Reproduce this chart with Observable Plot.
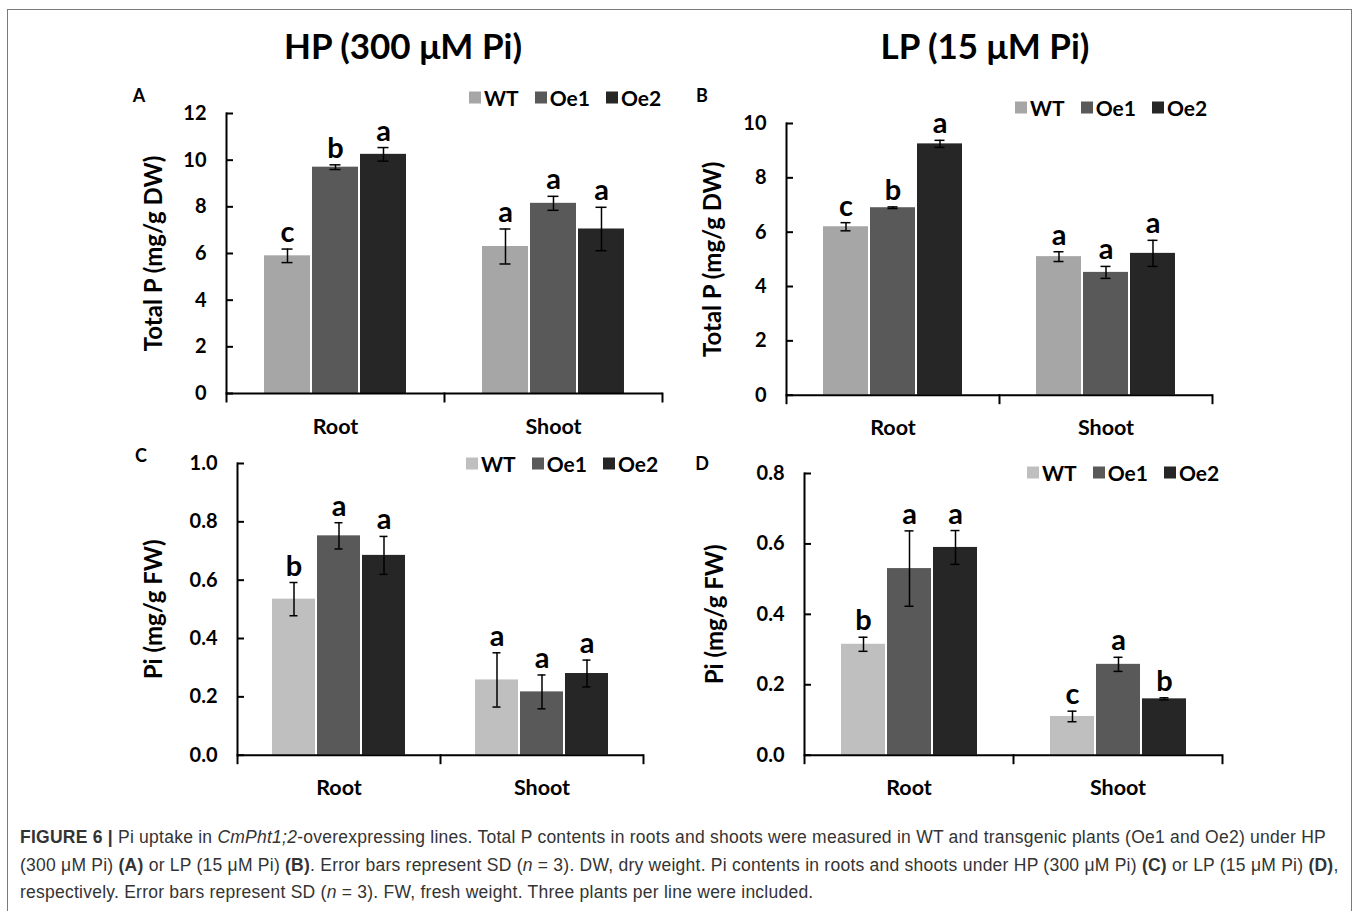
<!DOCTYPE html>
<html>
<head>
<meta charset="utf-8">
<script src="https://cdn.jsdelivr.net/npm/d3@7"></script>
<script src="https://cdn.jsdelivr.net/npm/@observablehq/plot@0.6"></script>
<style>
  body { margin: 0; background: #fff; }
  #fig { position: relative; width: 1358px; height: 911px; overflow: hidden; background: #fff; font-family: Lato, "Open Sans", sans-serif; color: #000; }
  .box { position: absolute; left: 7px; top: 9px; width: 1345px; height: 920px; border: 1px solid #7a7a7a; box-sizing: border-box; }
  .title { position: absolute; font-weight: 700; font-size: 35px; transform: translate(-50%, -50%); white-space: nowrap; }
  .plabel { position: absolute; font-weight: 700; font-size: 18px; transform: translate(-50%, -50%); }
  .legend { position: absolute; display: flex; align-items: center; font-weight: 700; font-size: 21px; transform: translateY(-50%); white-space: nowrap; }
  .legend .it { display: flex; align-items: center; margin-right: 16px; }
  .legend .sw { width: 12px; height: 12px; margin-right: 3px; }
  .panel { position: absolute; }
  .cap { position: absolute; left: 20px; top: 824px; font-family: "Liberation Sans", Arial, sans-serif; font-size: 17.5px; letter-spacing: 0.24px; line-height: 27.5px; color: #333; white-space: nowrap; }
</style>
</head>
<body>
<div id="fig">
  <div class="box"></div>
</div>
<script>
// ---------- data ----------
const categories = ["Root", "Shoot"];
const lines = ["WT", "Oe1", "Oe2"];

// Panel A: Total P, HP (300 µM Pi)
const A_root = [5.9, 9.7, 10.25];
const A_shoot = [6.3, 8.15, 7.05];
const A_root_sd = [0.29, 0.1, 0.29];
const A_shoot_sd = [0.75, 0.3, 0.93];
const A_root_sig = ["c", "b", "a"];
const A_shoot_sig = ["a", "a", "a"];
const A_ticks = [0, 2, 4, 6, 8, 10, 12];

// Panel B: Total P, LP (15 µM Pi)
const B_root = [6.2, 6.9, 9.25];
const B_shoot = [5.1, 4.52, 5.22];
const B_root_sd = [0.15, 0.03, 0.13];
const B_shoot_sd = [0.18, 0.22, 0.48];
const B_root_sig = ["c", "b", "a"];
const B_shoot_sig = ["a", "a", "a"];
const B_ticks = [0, 2, 4, 6, 8, 10];

// Panel C: Pi, HP (300 µM Pi)
const C_root = [0.535, 0.752, 0.685];
const C_shoot = [0.258, 0.217, 0.28];
const C_root_sd = [0.057, 0.045, 0.065];
const C_shoot_sd = [0.093, 0.058, 0.046];
const C_root_sig = ["b", "a", "a"];
const C_shoot_sig = ["a", "a", "a"];
const C_ticks = [0, 0.2, 0.4, 0.6, 0.8, 1.0];

// Panel D: Pi, LP (15 µM Pi)
const D_root = [0.315, 0.53, 0.59];
const D_shoot = [0.11, 0.258, 0.16];
const D_root_sd = [0.02, 0.107, 0.048];
const D_shoot_sd = [0.015, 0.02, 0.003];
const D_root_sig = ["b", "a", "a"];
const D_shoot_sig = ["c", "a", "b"];
const D_ticks = [0, 0.2, 0.4, 0.6, 0.8];

const titles = ["HP (300 μM Pi)", "LP (15 μM Pi)"];
const yLabelTotal = "Total P (mg/g DW)";
const yLabelPi = "Pi (mg/g FW)";
const colorsAB = ["#a6a6a6", "#595959", "#262626"];
const colorsCD = ["#bfbfbf", "#595959", "#262626"];

function rowsOf(root, shoot, rootSd, shootSd, rootSig, shootSig) {
  const out = [];
  [[root, rootSd, rootSig], [shoot, shootSd, shootSig]].forEach(([v, sd, sig], ci) => {
    lines.forEach((l, si) => out.push({cat: categories[ci], line: l, v: v[si], sd: sd[si], sig: sig[si]}));
  });
  return out;
}

// ---------- layout ----------
const fig = document.getElementById("fig");
function addDiv(cls, html, x, y) {
  const d = document.createElement("div");
  d.className = cls;
  d.innerHTML = html;
  d.style.left = x + "px";
  d.style.top = y + "px";
  fig.appendChild(d);
  return d;
}

addDiv("title", titles[0], 403, 45);
addDiv("title", titles[1], 985, 45);

const panels = [
  {id: "A", rows: rowsOf(A_root, A_shoot, A_root_sd, A_shoot_sd, A_root_sig, A_shoot_sig), ticks: A_ticks, fmt: d3.format("d"),
   label: yLabelTotal, colors: colorsAB, axisLeft: 224.6, axisRight: 662, yTop: 113.3, y0: 393.3, labelD: 72,
   letter: [139, 95], legend: [469, 97]},
  {id: "B", rows: rowsOf(B_root, B_shoot, B_root_sd, B_shoot_sd, B_root_sig, B_shoot_sig), ticks: B_ticks, fmt: d3.format("d"),
   label: yLabelTotal, colors: colorsAB, axisLeft: 786.4, axisRight: 1213, yTop: 123.3, y0: 395, labelD: 73,
   letter: [702, 95], legend: [1015, 107]},
  {id: "C", rows: rowsOf(C_root, C_shoot, C_root_sd, C_shoot_sd, C_root_sig, C_shoot_sig), ticks: C_ticks, fmt: d3.format(".1f"),
   label: yLabelPi, colors: colorsCD, axisLeft: 236.4, axisRight: 644, yTop: 463.3, y0: 755, labelD: 83,
   letter: [141, 455], legend: [466, 463]},
  {id: "D", rows: rowsOf(D_root, D_shoot, D_root_sd, D_shoot_sd, D_root_sig, D_shoot_sig), ticks: D_ticks, fmt: d3.format(".1f"),
   label: yLabelPi, colors: colorsCD, axisLeft: 802.5, axisRight: 1222, yTop: 473.3, y0: 755, labelD: 89,
   letter: [702, 463], legend: [1027, 472]}
];

panels.forEach(p => {
  const mL = 100, mR = 10, mT = 20, mB = 50;
  const plotH = p.y0 - p.yTop;
  const W = p.axisRight - p.axisLeft + mL + mR;
  const H = plotH + mT + mB;
  const yMax = p.ticks[p.ticks.length - 1];
  const chart = Plot.plot({
    width: W, height: H,
    marginLeft: mL, marginRight: mR, marginTop: mT, marginBottom: mB,
    style: {fontFamily: "Lato, 'Open Sans', sans-serif", color: "#000", background: "transparent", overflow: "visible"},
    fx: {domain: categories, padding: 0, label: null},
    x: {domain: lines, paddingInner: 0.05, paddingOuter: 0.757, axis: null},
    y: {domain: [0, yMax]},
    color: {domain: lines, range: p.colors},
    marks: [
      Plot.barY(p.rows, {fx: "cat", x: "line", y: "v", fill: "line"}),
      Plot.ruleX(p.rows, {fx: "cat", x: "line", y1: d => d.v - d.sd, y2: d => d.v + d.sd, stroke: "#000", strokeWidth: 1.5}),
      Plot.tickY(p.rows, {fx: "cat", x: "line", y: d => d.v + d.sd, stroke: "#000", strokeWidth: 1.5, inset: 17.5}),
      Plot.tickY(p.rows, {fx: "cat", x: "line", y: d => d.v - d.sd, stroke: "#000", strokeWidth: 1.5, inset: 17.5}),
      Plot.text(p.rows, {fx: "cat", x: "line", y: d => d.v + d.sd, text: "sig", lineAnchor: "bottom", dy: -7, fontSize: 29, fontWeight: "bold"}),
      Plot.ruleY([0], {stroke: "#000", strokeWidth: 2}),
      Plot.frame({anchor: "left", facetAnchor: "left", stroke: "#000", strokeWidth: 2}),
      Plot.frame({anchor: "left", insetTop: plotH, insetBottom: -8, stroke: "#000", strokeWidth: 2}),
      Plot.frame({anchor: "right", facetAnchor: "right", insetTop: plotH, insetBottom: -8, stroke: "#000", strokeWidth: 2}),
      // inward tick marks
      Plot.axisY({ticks: p.ticks, tickSize: 7, dx: 7, tickFormat: () => "", strokeWidth: 2, label: null}),
      // tick labels
      Plot.axisY({ticks: p.ticks, tickFormat: p.fmt, tickSize: 0, tickPadding: 20, fontSize: 20, fontWeight: "bold", label: null}),
      Plot.axisY({ticks: [], tickSize: 0, label: p.label, labelAnchor: "center", labelArrow: "none", labelOffset: p.labelD + 10, fontSize: 24, fontWeight: "bold"}),
      Plot.axisFx({anchor: "bottom", tickSize: 0, tickPadding: 25, fontSize: 21.5, fontWeight: "bold", label: null})
    ]
  });
  const wrap = document.createElement("div");
  wrap.className = "panel";
  wrap.style.left = (p.axisLeft - mL) + "px";
  wrap.style.top = (p.yTop - mT) + "px";
  wrap.appendChild(chart);
  fig.appendChild(wrap);

  addDiv("plabel", p.id, p.letter[0], p.letter[1]);
  const lg = addDiv("legend", "", p.legend[0], p.legend[1]);
  lines.forEach((l, i) => {
    const it = document.createElement("div");
    it.className = "it";
    it.innerHTML = `<span class="sw" style="background:${p.colors[i]}"></span><span>${l}</span>`;
    lg.appendChild(it);
  });
});

addDiv("cap",
  "<b>FIGURE 6 |</b> Pi uptake in <i>CmPht1;2</i>-overexpressing lines. Total P contents in roots and shoots were measured in WT and transgenic plants (Oe1 and Oe2) under HP<br>" +
  "(300 μM Pi) <b>(A)</b> or LP (15 μM Pi) <b>(B)</b>. Error bars represent SD (<i>n</i> = 3). DW, dry weight. Pi contents in roots and shoots under HP (300 μM Pi) <b>(C)</b> or LP (15 μM Pi) <b>(D)</b>,<br>" +
  "respectively. Error bars represent SD (<i>n</i> = 3). FW, fresh weight. Three plants per line were included.",
  20, 824);
</script>
</body>
</html>
